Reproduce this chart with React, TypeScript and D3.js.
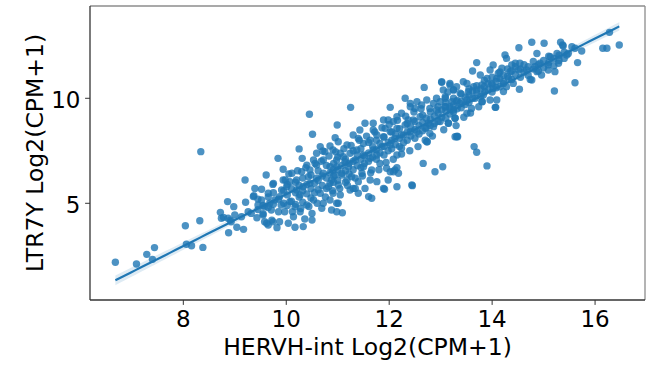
import React from "react";
import * as d3 from "d3";

const W = 663;
const H = 366;

const xTicks = [8, 10, 12, 14, 16];
const yTicks = [5, 10];
const xLabel = "HERVH-int Log2(CPM+1)";
const yLabel = "LTR7Y Log2(CPM+1)";

// [HERVH-int, LTR7Y] pairs
const lowTail: [number, number][] = [
  [6.68, 2.19], [7.09, 2.11], [7.29, 2.57], [7.4, 2.33], [7.44, 2.89], [8.04, 3.93],
  [8.06, 3.05], [8.16, 2.98], [8.32, 4.17], [8.38, 2.9], [8.34, 7.46],
];

const leftCluster: [number, number][] = [
  [8.72, 4.57], [8.74, 4.29], [8.86, 5.08], [8.98, 4.84], [8.88, 3.6], [9.04, 3.86],
  [9.17, 3.76], [8.87, 4.29], [9.0, 4.44], [8.93, 4.12], [9.13, 4.36], [9.2, 6.11],
  [9.21, 5.05], [9.26, 4.6], [9.32, 4.52], [9.37, 5.36], [9.39, 5.71], [9.52, 5.67],
  [9.43, 4.31], [9.55, 4.44], [9.58, 4.12], [9.65, 3.97], [9.74, 4.12], [9.82, 3.84],
  [9.87, 4.12], [9.61, 6.35], [9.74, 5.9], [9.84, 7.14], [9.94, 6.62], [9.94, 6.11],
  [9.65, 5.48], [9.78, 5.16], [9.71, 4.68], [9.87, 5.32], [9.9, 4.92], [9.97, 4.6],
  [9.52, 5.16], [9.45, 4.92], [9.58, 4.84], [9.68, 5.0], [8.78, 4.33], [8.91, 4.2],
  [9.72, 4.2], [9.62, 4.05], [9.36, 5.32], [9.75, 5.95], [9.91, 5.63],
];

const midCluster: [number, number][] = [
  [10.25, 7.59], [10.66, 7.7], [10.85, 7.73], [10.31, 7.14], [10.59, 7.38], [10.75, 7.46],
  [10.53, 7.06], [10.11, 6.43], [9.98, 6.11], [10.07, 5.08], [10.17, 4.84], [10.27, 4.6],
  [10.14, 4.36], [10.04, 4.05], [10.17, 3.86], [10.33, 3.89], [10.5, 4.2], [10.36, 4.25],
  [10.2, 5.63], [10.33, 5.79], [10.46, 5.95], [10.43, 6.27], [10.59, 6.19], [10.72, 6.43],
  [10.85, 6.74], [10.95, 6.35], [10.82, 5.79], [10.91, 5.48], [10.66, 5.48], [10.53, 5.16],
  [10.72, 5.0], [10.85, 5.16], [10.98, 5.0], [10.69, 4.76], [10.88, 4.68], [10.98, 4.6],
  [10.27, 5.4], [10.4, 4.92], [10.01, 5.79], [10.07, 6.03], [10.2, 6.11], [10.3, 6.5],
  [10.46, 6.59], [10.59, 6.82], [10.72, 7.06], [10.4, 6.82], [10.45, 9.24], [10.51, 8.29],
  [10.71, 7.49], [11.09, 4.55], [11.01, 5.0], [10.5, 4.52],
];

const upperCluster: [number, number][] = [
  [11.25, 9.57], [12.02, 9.57], [10.99, 8.73], [10.95, 8.12], [12.68, 10.52], [13.02, 10.76],
  [13.18, 10.71], [13.25, 10.4], [12.31, 10.0], [12.41, 9.76], [12.5, 9.52], [12.73, 9.92],
  [12.86, 9.76], [12.99, 9.84], [13.09, 10.0], [13.31, 9.84], [13.28, 9.05], [13.15, 8.81],
  [12.99, 8.89], [12.73, 7.93], [13.31, 8.17], [12.66, 6.9], [12.89, 6.5], [13.04, 6.74],
  [12.44, 5.87], [12.15, 5.79], [11.89, 5.71], [12.02, 6.5], [12.11, 6.59], [12.18, 6.43],
  [11.82, 6.9], [11.95, 6.67], [11.66, 6.59], [11.63, 6.11], [11.76, 6.03], [11.47, 6.43],
  [11.34, 5.71], [11.24, 5.63], [11.6, 5.32], [11.66, 5.24], [11.05, 5.4], [11.01, 7.93],
  [11.18, 7.78], [11.3, 8.25], [11.43, 8.49], [11.53, 8.81], [11.69, 8.81], [11.89, 8.97],
  [11.98, 8.97], [12.15, 9.12], [12.24, 9.29], [12.41, 9.6], [12.54, 9.84], [12.63, 9.68],
  [12.79, 9.52], [12.92, 9.44], [13.09, 9.6], [13.18, 9.52], [12.47, 8.97], [12.6, 9.12],
  [12.76, 8.81], [12.41, 8.41], [12.24, 8.25], [12.15, 8.57], [12.02, 8.41], [11.89, 8.17],
  [11.76, 8.25], [11.63, 8.01], [11.5, 7.85], [11.37, 7.54], [11.24, 7.38], [11.11, 7.22],
  [10.98, 7.06], [10.91, 6.59], [11.08, 6.43], [11.21, 6.74], [11.34, 7.06], [11.5, 7.3],
  [11.69, 7.54], [11.86, 7.7], [12.02, 7.78], [12.24, 7.62], [12.54, 8.41], [12.7, 8.57],
  [12.86, 8.65], [12.37, 8.97], [12.31, 8.73], [12.11, 8.09], [11.92, 8.57], [11.69, 8.49],
  [11.4, 8.09], [10.91, 7.54], [11.05, 7.38], [10.88, 6.11], [11.01, 5.87], [11.18, 6.11],
  [10.98, 6.74], [11.14, 6.98], [11.27, 6.27], [11.4, 6.03], [11.5, 6.74], [11.63, 7.14],
  [11.76, 7.3], [11.53, 5.71], [12.15, 7.3], [12.08, 8.89], [11.4, 5.48], [11.3, 5.71],
  [12.45, 5.84], [11.91, 5.67], [11.98, 6.11], [12.08, 6.5], [12.15, 6.7], [13.33, 8.17],
  [13.65, 7.7], [13.7, 7.43], [13.9, 6.78], [12.74, 7.93], [12.79, 8.33],
];

const topCluster: [number, number][] = [
  [14.52, 12.41], [14.77, 12.67], [15.01, 12.62], [15.33, 12.67], [15.38, 12.49], [15.61, 12.38],
  [15.74, 12.25], [15.61, 10.74], [15.66, 11.7], [15.21, 10.35], [14.87, 12.13], [15.13, 11.98],
  [15.26, 12.13], [15.48, 12.13], [13.7, 11.7], [14.25, 12.06], [14.28, 11.9], [14.45, 11.67],
  [14.54, 11.67], [14.38, 11.59], [14.02, 11.59], [14.19, 11.43], [14.12, 11.19], [13.62, 11.3],
  [13.77, 11.11], [13.96, 11.35], [14.35, 11.27], [14.51, 11.35], [14.67, 11.35], [14.83, 11.51],
  [14.93, 11.67], [15.09, 11.59], [15.29, 11.67], [15.22, 11.27], [14.74, 10.9], [14.96, 11.11],
  [15.09, 11.35], [14.87, 11.27], [14.53, 10.43], [14.41, 10.71], [14.32, 10.95], [14.22, 10.79],
  [14.09, 10.95], [13.99, 10.71], [13.9, 10.95], [13.8, 10.63], [13.64, 10.55], [13.51, 10.71],
  [13.44, 10.79], [13.31, 10.55], [13.18, 10.63], [13.02, 10.79], [13.05, 10.4], [13.25, 10.4],
  [13.38, 10.24], [13.54, 10.32], [13.7, 10.4], [13.86, 10.32], [14.02, 10.48], [14.15, 10.55],
  [14.28, 10.55], [13.96, 9.92], [14.09, 9.92], [13.8, 9.84], [13.83, 10.16], [13.67, 10.0],
  [13.51, 9.92], [13.38, 9.76], [13.22, 9.84], [13.09, 10.08], [13.09, 9.6], [13.25, 9.44],
  [13.6, 9.52], [14.06, 9.57], [13.51, 9.29], [13.28, 9.05], [13.15, 8.81], [13.28, 8.17],
  [13.32, 8.2], [14.77, 10.87], [14.22, 10.32], [16.15, 12.38], [16.23, 12.38], [16.47, 12.54],
  [16.28, 13.14], [15.37, 12.54], [15.45, 12.06], [15.55, 12.46], [14.07, 9.57], [13.81, 9.84],
];

const coreBand: [number, number][] = [
  [9.45, 4.7], [9.45, 5.2], [9.55, 4.9], [9.55, 4.5], [9.65, 5.3], [9.65, 4.8], [9.75, 4.95],
  [9.75, 5.5], [9.85, 5.2], [9.85, 4.6], [9.95, 5.6], [9.95, 5.0], [10.02, 5.4], [10.02, 4.9],
  [10.02, 5.9], [10.1, 5.1], [10.1, 5.7], [10.18, 5.5], [10.18, 6.0], [10.18, 4.95], [10.25, 5.3],
  [10.25, 5.85], [10.32, 5.6], [10.32, 6.2], [10.32, 5.05], [10.4, 5.45], [10.4, 5.9], [10.48, 5.7],
  [10.48, 6.35], [10.48, 5.25], [10.55, 5.95], [10.55, 5.5], [10.62, 6.1], [10.62, 6.55], [10.62, 5.65],
  [10.7, 5.85], [10.7, 6.3], [10.78, 6.2], [10.78, 6.8], [10.78, 5.7], [10.85, 6.45], [10.85, 5.95],
  [10.92, 6.3], [10.92, 6.9], [10.92, 6.0], [11.0, 6.6], [11.0, 6.1], [11.0, 7.2], [11.08, 6.8],
  [11.08, 6.35], [11.15, 6.55], [11.15, 7.1], [11.15, 6.0], [11.22, 6.9], [11.22, 6.4], [11.3, 7.0],
  [11.3, 6.6], [11.3, 7.5], [11.38, 6.8], [11.38, 7.3], [11.45, 7.1], [11.45, 6.7], [11.45, 7.6],
  [11.52, 7.25], [11.52, 6.9], [11.6, 7.4], [11.6, 7.0], [11.6, 7.9], [11.68, 7.2], [11.68, 7.7],
  [11.75, 7.55], [11.75, 7.1], [11.75, 8.0], [11.82, 7.4], [11.82, 7.85], [11.9, 7.7], [11.9, 7.3],
  [11.9, 8.15], [11.98, 7.9], [11.98, 7.5], [12.05, 8.0], [12.05, 7.6], [12.05, 8.4], [12.12, 7.8],
  [12.12, 8.3], [12.2, 8.1], [12.2, 8.55], [12.2, 7.7], [12.28, 8.25], [12.28, 7.9], [12.35, 8.4],
  [12.35, 8.8], [12.35, 8.0], [12.42, 8.2], [12.42, 8.65], [12.5, 8.5], [12.5, 8.9], [12.5, 8.1],
  [12.58, 8.7], [12.58, 8.3], [12.65, 8.85], [12.65, 9.2], [12.65, 8.45], [12.72, 8.6], [12.72, 9.05],
  [12.8, 9.0], [12.8, 8.7], [12.8, 9.35], [12.88, 9.15], [12.88, 8.8], [12.95, 9.3], [12.95, 9.6],
  [12.95, 8.9], [13.02, 9.1], [13.02, 9.45], [13.1, 9.4], [13.1, 9.8], [13.1, 9.05], [13.18, 9.6],
  [13.18, 9.25], [13.25, 9.7], [13.25, 10.0], [13.25, 9.35], [13.32, 9.5], [13.32, 9.9], [13.4, 9.85],
  [13.4, 10.2], [13.4, 9.55], [13.48, 10.05], [13.48, 9.7], [13.55, 10.15], [13.55, 9.8], [13.55, 10.45],
  [13.62, 10.0], [13.62, 10.35], [13.7, 10.25], [13.7, 10.6], [13.78, 10.45], [13.78, 10.1], [13.85, 10.55],
  [13.85, 10.85], [13.92, 10.4], [13.92, 10.7], [14.0, 10.65], [14.0, 11.0], [14.0, 10.3], [14.08, 10.8],
  [14.08, 10.5], [14.15, 10.95], [14.15, 11.25], [14.22, 10.7], [14.22, 11.1], [14.3, 11.05], [14.3, 11.4],
  [14.38, 10.9], [14.38, 11.3], [14.45, 11.15], [14.45, 11.5], [14.55, 11.0], [14.55, 11.4], [14.62, 11.25],
  [14.62, 11.6], [14.7, 11.5], [14.7, 11.1], [14.8, 11.4], [14.8, 11.75], [14.9, 11.6], [14.9, 11.3],
  [15.0, 11.8], [15.0, 11.45], [15.1, 11.7], [15.1, 12.0], [15.2, 11.9], [15.2, 11.55], [15.3, 12.05],
  [15.3, 11.8], [15.4, 12.2], [15.4, 11.9],
];

const coreSpread: [number, number][] = [
  [10.05, 6.4], [10.12, 4.6], [10.22, 6.55], [10.28, 4.75], [10.38, 6.7], [10.44, 4.85], [10.56, 6.9],
  [10.6, 5.0], [10.68, 7.0], [10.76, 5.3], [10.83, 7.25], [10.9, 5.6], [10.96, 7.45], [11.04, 5.7],
  [11.12, 7.6], [11.19, 5.85], [11.26, 7.75], [11.34, 6.2], [11.42, 8.0], [11.48, 6.3], [11.56, 8.2],
  [11.64, 6.45], [11.72, 8.4], [11.8, 6.6], [11.86, 8.6], [11.94, 6.95], [12.0, 8.75], [12.08, 7.1],
  [12.16, 8.95], [12.24, 7.35], [12.32, 9.15], [12.4, 7.5], [12.48, 9.35], [12.56, 7.7], [12.62, 9.5],
  [12.7, 8.0], [12.84, 8.2], [12.92, 10.0], [13.06, 8.5], [13.14, 10.3], [13.3, 8.7], [13.45, 9.1],
  [13.58, 9.3], [13.74, 9.6],
];

const points: [number, number][] = [
  ...coreBand,
  ...coreSpread,
  ...lowTail,
  ...leftCluster,
  ...midCluster,
  ...upperCluster,
  ...topCluster,
];

const BLUE = "#1f77b4";
const FONT = "'DejaVu Sans', sans-serif";

export default function App() {
  const x = d3.scaleLinear().domain([6.187, 16.97]).range([90, 645]);
  const y = d3.scaleLinear().domain([0.395, 14.395]).range([300, 6]);

  // ordinary least squares fit with 95% confidence band
  const n = points.length;
  const mx = d3.mean(points, (p) => p[0]) as number;
  const my = d3.mean(points, (p) => p[1]) as number;
  const sxx = d3.sum(points, (p) => (p[0] - mx) ** 2);
  const sxy = d3.sum(points, (p) => (p[0] - mx) * (p[1] - my));
  const slope = sxy / sxx;
  const icpt = my - slope * mx;
  const sse = d3.sum(points, (p) => (p[1] - (icpt + slope * p[0])) ** 2);
  const s = Math.sqrt(sse / (n - 2));
  const [x0, x1] = d3.extent(points, (p) => p[0]) as [number, number];
  const grid = d3.range(0, 101).map((i) => x0 + ((x1 - x0) * i) / 100);
  const fit = grid.map((g) => {
    const yh = icpt + slope * g;
    const se = s * Math.sqrt(1 / n + (g - mx) ** 2 / sxx);
    return { g, yh, lo: yh - 1.96 * se, hi: yh + 1.96 * se };
  });

  const area = d3
    .area<{ g: number; lo: number; hi: number }>()
    .x((d) => x(d.g))
    .y0((d) => y(d.lo))
    .y1((d) => y(d.hi));
  const line = d3
    .line<{ g: number; yh: number }>()
    .x((d) => x(d.g))
    .y((d) => y(d.yh));

  const [L, R] = x.range();
  const [B, T] = y.range();

  return (
    <svg
      width={W}
      height={H}
      style={{ position: "absolute", left: 0, top: 0, background: "#fff" }}
      fontFamily={FONT}
    >
      <rect x={0} y={0} width={W} height={H} fill="#fff" />
      <g>
        {points.map((p, i) => (
          <circle key={i} cx={x(p[0])} cy={y(p[1])} r={3.7} fill={BLUE} fillOpacity={0.8} />
        ))}
      </g>
      <path d={area(fit) || ""} fill={BLUE} fillOpacity={0.15} stroke="none" />
      <path d={line(fit) || ""} fill="none" stroke={BLUE} strokeWidth={2.2} />

      {/* spines */}
      <line x1={L} x2={R} y1={T} y2={T} stroke="#8c8c8c" strokeWidth={1.3} />
      <line x1={R} x2={R} y1={T} y2={B} stroke="#8c8c8c" strokeWidth={1.3} />
      <line x1={L} x2={L} y1={T} y2={B} stroke="#333" strokeWidth={1.3} />
      <line x1={L} x2={R} y1={B} y2={B} stroke="#333" strokeWidth={1.3} />

      {xTicks.map((t) => (
        <g key={"x" + t}>
          <line x1={x(t)} x2={x(t)} y1={B} y2={B + 4.9} stroke="#333" strokeWidth={1} />
          <text x={x(t)} y={327} fontSize={23} textAnchor="middle" fill="#000">
            {t}
          </text>
        </g>
      ))}
      {yTicks.map((t) => (
        <g key={"y" + t}>
          <line x1={L - 4.9} x2={L} y1={y(t)} y2={y(t)} stroke="#333" strokeWidth={1} />
          <text x={80.5} y={y(t) + 9.5} fontSize={23} textAnchor="end" fill="#000">
            {t}
          </text>
        </g>
      ))}
      <text x={(L + R) / 2} y={355} fontSize={23.5} textAnchor="middle" fill="#000">
        {xLabel}
      </text>
      <text
        transform={`translate(43,${(T + B) / 2}) rotate(-90)`}
        fontSize={23.5}
        textAnchor="middle"
        fill="#000"
      >
        {yLabel}
      </text>
    </svg>
  );
}
